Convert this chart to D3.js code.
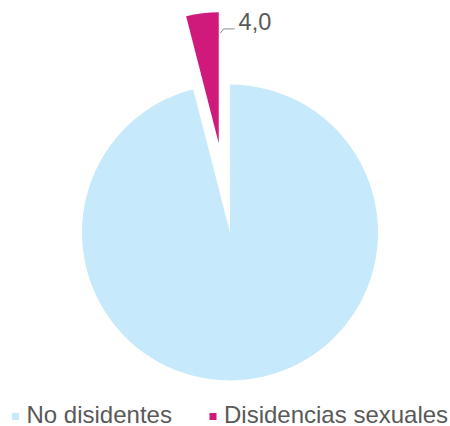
<!DOCTYPE html>
<html>
<head>
<meta charset="utf-8">
<script src="https://cdn.jsdelivr.net/npm/d3@7"></script>
<style>
  html, body { margin: 0; padding: 0; background: #ffffff; }
  svg { display: block; }
  text { font-family: "Liberation Sans", Arial, sans-serif; fill: #595959; }
</style>
</head>
<body>
<svg id="chart" width="450" height="426"></svg>
<script>
const categories = ["No disidentes", "Disidencias sexuales"];
const values = [96.0, 4.0];
const colors = ["#c6e9fb", "#cf1a7b"];
const labelText = ["", "4,0"];

const svg = d3.select("#chart");
const cx = 230, cy = 232.5;
const mainR = 148, explodedR = 131, explodeOffset = 90;

const pie = d3.pie().sort(null).value(d => d.value).startAngle(0).endAngle(2 * Math.PI);
const data = categories.map((c, i) => ({ name: c, value: values[i], color: colors[i], label: labelText[i] }));
const arcs = pie(data);

const g = svg.append("g").attr("transform", `translate(${cx},${cy})`);

arcs.forEach((a, i) => {
  const exploded = i === 1;
  const r = exploded ? explodedR : mainR;
  const arcGen = d3.arc().innerRadius(0).outerRadius(r);
  const mid = (a.startAngle + a.endAngle) / 2;
  const dx = exploded ? Math.sin(mid) * explodeOffset : 0;
  const dy = exploded ? -Math.cos(mid) * explodeOffset : 0;
  g.append("path")
    .attr("d", arcGen(a))
    .attr("transform", `translate(${dx},${dy})`)
    .attr("fill", a.data.color);

  if (a.data.label) {
    const ex = dx + Math.sin(a.endAngle) * (r - 21);
    const ey = dy - Math.cos(a.endAngle) * (r - 21);
    const lx = ex + 1.5, ly = ey;
    g.append("path")
      .attr("d", `M${lx},${ly} L${lx + 3.4},${ly - 4.3} L${lx + 14.4},${ly - 4.3}`)
      .attr("fill", "none")
      .attr("stroke", "#8c8c8c")
      .attr("stroke-width", 1);
    g.append("text")
      .attr("x", lx + 18.4)
      .attr("y", ly - 3.3)
      .attr("font-size", "23.5px")
      .text(a.data.label);
  }
});

// legend
const legend = svg.append("g");
const legendX = [12, 209.5];
data.forEach((d, i) => {
  legend.append("rect")
    .attr("x", legendX[i])
    .attr("y", 413)
    .attr("width", 7)
    .attr("height", 7)
    .attr("fill", d.color);
  legend.append("text")
    .attr("x", legendX[i] + 14.5)
    .attr("y", 422.5)
    .attr("font-size", "24px")
    .text(d.name);
});
</script>
</body>
</html>
